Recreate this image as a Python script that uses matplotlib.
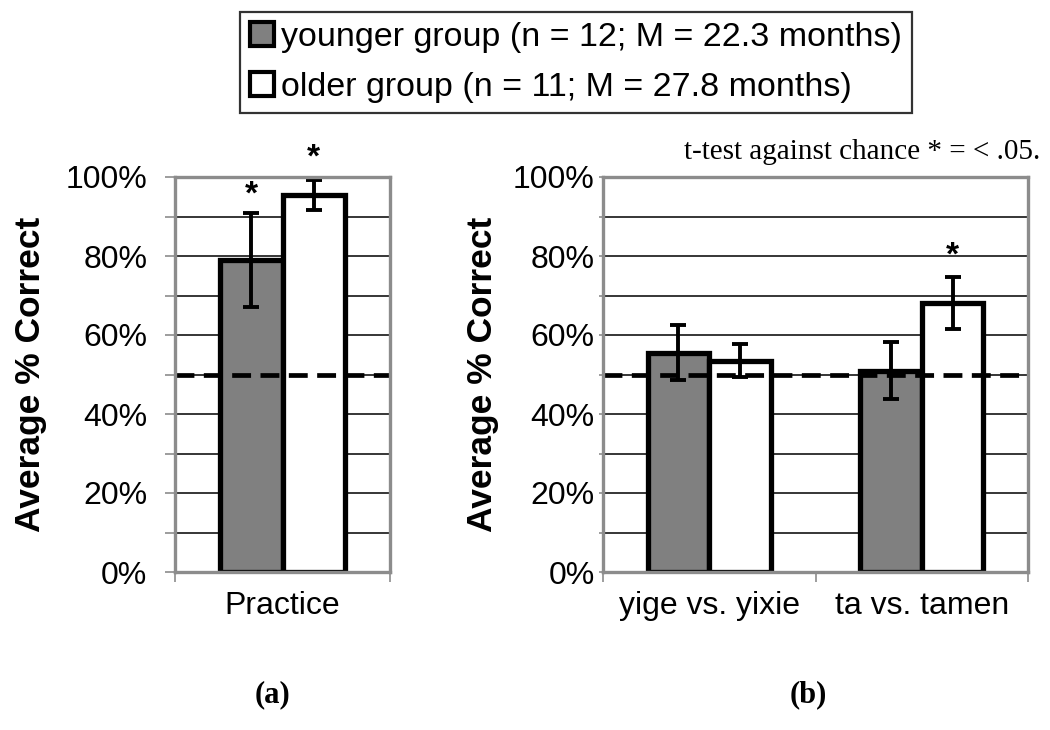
import numpy as np
import matplotlib.pyplot as plt
from matplotlib.ticker import MultipleLocator, FuncFormatter
from matplotlib.patches import Patch

plt.rcParams['font.family'] = ['Liberation Sans', 'DejaVu Sans']

# datos (porcentaje correcto)
cats_a = ['Practice']
young_a = [79.0]
young_a_err = [12.0]
old_a = [95.5]
old_a_err = [3.8]
sig_young_a = [True]
sig_old_a = [True]

cats_b = ['yige vs. yixie', 'ta vs. tamen']
young_b = [55.5, 51.0]
young_b_err = [7.0, 7.2]
old_b = [53.5, 68.0]
old_b_err = [4.2, 6.6]
sig_young_b = [False, False]
sig_old_b = [False, True]

labels = ['younger group (n = 12; M = 22.3 months)',
          'older group (n = 11; M = 27.8 months)']
chance = 50

grey = '#808080'
frame = '#8c8c8c'
bw = 0.29

fig = plt.figure(figsize=(10.5, 7.3), dpi=100)
ax_a = fig.add_axes([175/1050, 158/730, 215/1050, 395/730])
ax_b = fig.add_axes([603/1050, 158/730, 425/1050, 395/730])


def panel(ax, cats, yv, ye, ov, oe, sy, so, tick_len, tick_pad, ylab_x):
    x = np.arange(len(cats))
    for y in range(10, 100, 10):
        ax.axhline(y, color='black', lw=1.1, zorder=1)
    ax.bar(x - bw/2, yv, bw, color=grey, edgecolor='black', lw=3.8, zorder=2)
    ax.bar(x + bw/2, ov, bw, color='white', edgecolor='black', lw=3.8, zorder=2)
    ax.errorbar(x - bw/2, yv, yerr=ye, fmt='none', ecolor='black',
                elinewidth=2.8, capsize=6, capthick=2.8, zorder=4, clip_on=False)
    ax.errorbar(x + bw/2, ov, yerr=oe, fmt='none', ecolor='black',
                elinewidth=2.8, capsize=6, capthick=2.8, zorder=4, clip_on=False)
    ax.axhline(chance, color='black', lw=3.4, ls=(0, (4, 2)), zorder=5)
    for i in range(len(cats)):
        if sy[i]:
            ax.text(x[i] - bw/2, yv[i] + ye[i] + 4.5, '*', ha='center', va='center',
                    fontsize=24, fontweight='bold', clip_on=False)
        if so[i]:
            ax.text(x[i] + bw/2, ov[i] + oe[i] + 5.5, '*', ha='center', va='center',
                    fontsize=24, fontweight='bold', clip_on=False)
    ax.set_xlim(-0.5, len(cats) - 0.5)
    ax.set_ylim(0, 100)
    ax.yaxis.set_major_locator(MultipleLocator(20))
    ax.yaxis.set_minor_locator(MultipleLocator(10))
    ax.yaxis.set_major_formatter(FuncFormatter(lambda v, p: '%d%%' % v))
    ax.tick_params(axis='y', which='both', length=tick_len, width=1.2,
                   color=frame, pad=tick_pad, labelsize=23)
    ax.set_xticks(x)
    ax.set_xticklabels(cats, fontsize=23)
    ax.set_xticks(np.arange(len(cats) + 1) - 0.5, minor=True)
    ax.tick_params(axis='x', which='major', length=0, pad=14)
    ax.tick_params(axis='x', which='minor', length=7, width=1.2, color=frame)
    for s in ax.spines.values():
        s.set_color(frame)
        s.set_linewidth(2.4)
        s.set_zorder(6)
    ax.set_ylabel('Average % Correct', fontsize=25.5, fontweight='bold')
    ax.yaxis.set_label_coords(ylab_x, 0.5)


panel(ax_a, cats_a, young_a, young_a_err, old_a, old_a_err, sig_young_a, sig_old_a,
      7, 13, -0.597)
panel(ax_b, cats_b, young_b, young_b_err, old_b, old_b_err, sig_young_b, sig_old_b,
      3, 3, -0.245)

handles = [Patch(facecolor=grey, edgecolor='black', lw=3),
           Patch(facecolor='white', edgecolor='black', lw=3)]
leg = fig.legend(handles, labels, loc='upper left', bbox_to_anchor=(240/1050, 1 - 12/730),
                 fontsize=24.5, frameon=True, fancybox=False, edgecolor='black',
                 handlelength=0.7, handleheight=0.7, handletextpad=0.2,
                 borderpad=0.3, borderaxespad=0, labelspacing=0.55)
leg.get_frame().set_linewidth(1.6)

fig.text(1040/1050, 1 - 152/730, 't-test against chance * = < .05.', ha='right', va='center',
         fontsize=21, family=['Liberation Serif', 'DejaVu Serif'])
fig.text(272/1050, 1 - 695/730, '(a)', ha='center', va='center', fontsize=22,
         fontweight='bold', family=['Liberation Serif', 'DejaVu Serif'])
fig.text(808/1050, 1 - 695/730, '(b)', ha='center', va='center', fontsize=22,
         fontweight='bold', family=['Liberation Serif', 'DejaVu Serif'])

fig.savefig('out.png', dpi=100)
